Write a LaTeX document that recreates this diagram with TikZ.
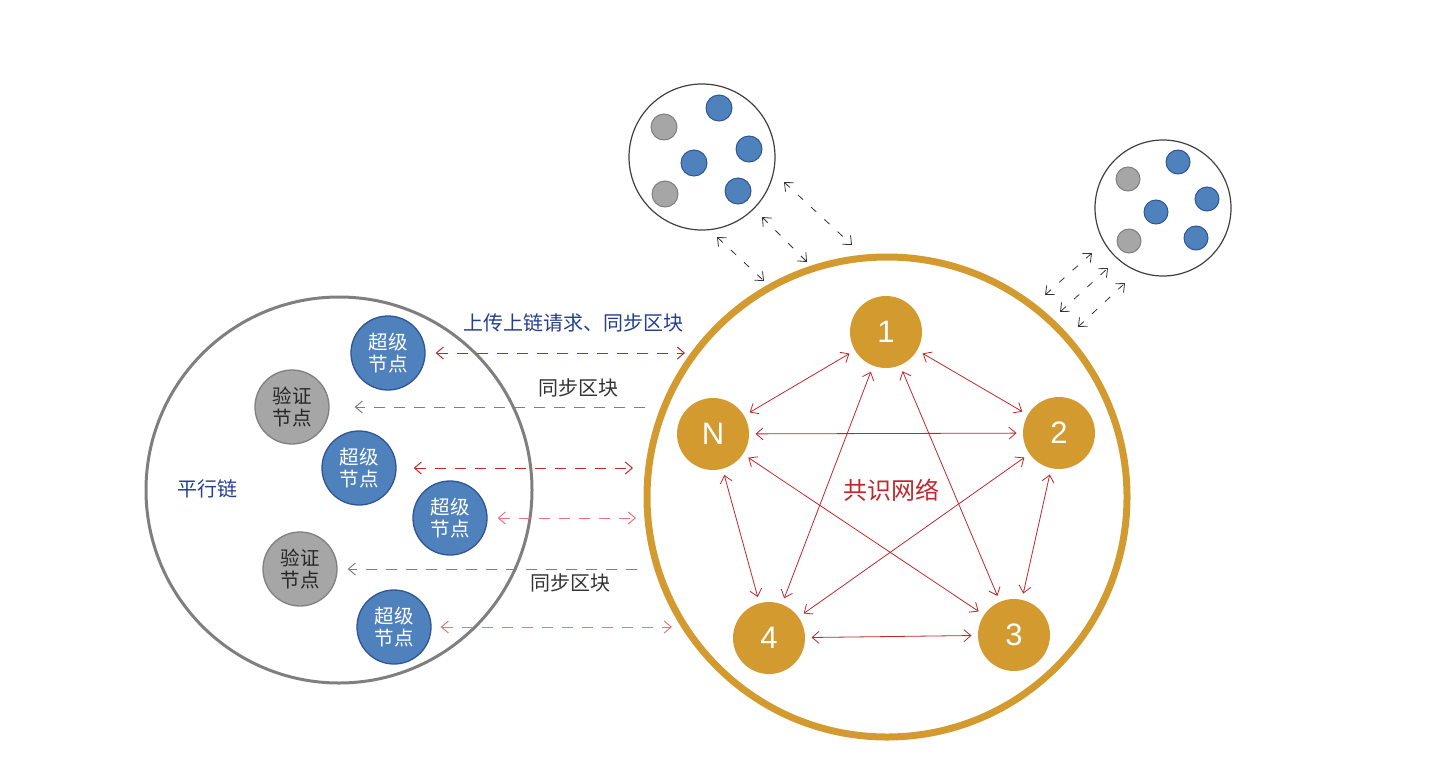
\documentclass[tikz,border=0pt]{standalone}
\usepackage{fontspec}
\setmainfont{Liberation Sans}
\newfontfamily\cjk{Noto Sans CJK SC}
\usetikzlibrary{arrows.meta}
\definecolor{gold}{HTML}{D39B2F}
\definecolor{supblue}{HTML}{4F81BD}
\definecolor{supedge}{HTML}{2E5597}
\definecolor{vergray}{HTML}{A6A6A6}
\definecolor{veredge}{HTML}{7F7F7F}
\definecolor{linkred}{HTML}{C0272D}
\definecolor{softred}{HTML}{E8737D}
\definecolor{labblue}{HTML}{23408E}
\tikzset{px/.style={x=1pt,y=-1pt,line width=1pt},
  barb/.style={{Straight Barb[length=7pt,width=12pt]}-{Straight Barb[length=7pt,width=12pt]}},
  sup/.style={circle,fill=supblue,draw=supedge,line width=1.3pt,minimum size=74pt,inner sep=0pt,
    text=white,align=center,font=\cjk\fontsize{19.5}{22}\selectfont},
  ver/.style={sup,fill=vergray,draw=veredge,text=black!85},
  gnode/.style={circle,fill=gold,minimum size=72pt,inner sep=0pt,text=white,font=\fontsize{31}{33}\selectfont},
  bdot/.style={circle,fill=supblue,draw=supedge,line width=1pt,minimum size=26pt,inner sep=0pt},
  gdot/.style={bdot,fill=vergray,draw=veredge},
  pool/.style={circle,draw=black!75,line width=1.2pt,inner sep=0pt},
  lab/.style={font=\cjk\fontsize{20}{22}\selectfont,text=black!80},
  plink/.style={linkred,line width=.8pt,barb,shorten <=6pt,shorten >=6pt},
  redlink/.style={linkred,barb,dash pattern=on 11pt off 9pt},
  softlink/.style={redlink,softred},
  graylink/.style={veredge,dash pattern=on 11pt off 9pt,-{Straight Barb[length=7pt,width=12pt]}},
  toplink/.style={black!80,line width=.8pt,barb,dash pattern=on 7pt off 11pt}}

\begin{document}
\begin{tikzpicture}[px]
  \useasboundingbox (0,0) rectangle (1434,769);
  % parallel chain
  \node[circle,draw=veredge,line width=3pt,minimum size=386pt] (chain) at (339,490) {};
  \node[lab,text=labblue] (pl) at (207,489) {平行链};
  \node[sup] (s1) at (388,353) {超级\\节点};
  \node[ver] (v1) at (292,407) {验证\\节点};
  \node[sup] (s2) at (359,468) {超级\\节点};
  \node[sup] (s3) at (450,518) {超级\\节点};
  \node[ver] (v2) at (300,569) {验证\\节点};
  \node[sup] (s4) at (394,627) {超级\\节点};
  % consensus network
  \node[circle,draw=gold,line width=7pt,minimum size=480pt] (ring) at (887,497) {};
  \node[gnode] (n1) at (886,332) {1};
  \node[gnode] (nN) at (713,434) {N};
  \node[gnode] (n2) at (1059,433) {2};
  \node[gnode] (n3) at (1014,635) {3};
  \node[gnode] (n4) at (769,638) {4};
  \node[lab,text=linkred,font=\cjk\fontsize{24}{26}\selectfont] (cons) at (891,490) {共识网络};
  \foreach \a/\b in {n1/nN,n1/n2,n1/n3,n1/n4,nN/n2,nN/n3,nN/n4,n2/n3,n2/n4,n3/n4}
    \draw[plink] (\a) -- (\b);
  % links chain <-> ring
  \coordinate (e1) at (685,353); \coordinate (e2) at (645,407); \coordinate (e3) at (633,468);
  \coordinate (e4) at (636,518); \coordinate (e5) at (637,569); \coordinate (e6) at (672,627);
  \draw[redlink,shorten <=10pt] (s1.east) -- (e1);
  \draw[graylink,shorten >=25pt] (e2) -- (v1.east);
  \draw[redlink,shorten <=17pt] (s2.east) -- (e3);
  \draw[softlink,shorten <=10pt] (s3.east) -- (e4);
  \draw[graylink,shorten >=10pt] (e5) -- (v2.east);
  \draw[softlink,shorten <=9pt] (s4.east) -- (e6);
  \node[lab,text=labblue] (upl) at (573,323) {上传上链请求、同步区块};
  \node[lab] (sync1) at (578,388) {同步区块};
  \node[lab] (sync2) at (570,583) {同步区块};
  % other chains
  \node[pool,minimum size=146pt] (poolA) at (702,157) {};
  \foreach \p [count=\i] in {(719,108),(749,149),(694,163),(738,191)} \node[bdot] (pa\i) at \p {};
  \node[gdot] (qa1) at (664,127) {}; \node[gdot] (qa2) at (665,194) {};
  \node[pool,minimum size=136pt] (poolB) at (1163,208) {};
  \foreach \p [count=\i] in {(1178,162),(1207,199),(1156,212),(1196,238)} \node[bdot,minimum size=24pt] (pb\i) at \p {};
  \node[gdot,minimum size=24pt] (qb1) at (1128,179) {}; \node[gdot,minimum size=24pt] (qb2) at (1129,241) {};
  \coordinate (ta1) at (717,237); \coordinate (tb1) at (764,281);
  \coordinate (ta2) at (762,217); \coordinate (tb2) at (807,262);
  \coordinate (ta3) at (784,182); \coordinate (tb3) at (852,245);
  \coordinate (ua1) at (1045,295); \coordinate (ub1) at (1092,253);
  \coordinate (ua2) at (1060,312); \coordinate (ub2) at (1108,268);
  \coordinate (ua3) at (1078,327); \coordinate (ub3) at (1125,283);
  \foreach \i in {1,2,3} {\draw[toplink] (ta\i) -- (tb\i); \draw[toplink] (ua\i) -- (ub\i);}
\end{tikzpicture}
\end{document}
